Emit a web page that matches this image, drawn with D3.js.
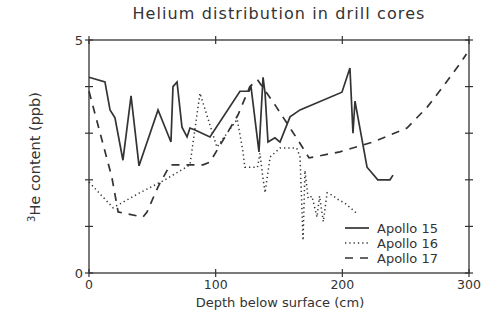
<!DOCTYPE html>
<html>
<head>
<meta charset="utf-8">
<script src="https://cdn.jsdelivr.net/npm/d3@7"></script>
<style>
  body { margin: 0; background: #fff; }
  svg { display: block; font-family: "DejaVu Sans", sans-serif; }
</style>
</head>
<body>
<svg id="chart" width="482" height="325"></svg>
<script>
// данные: глубина (см) и содержание 3He (ppb)
const apollo15 = [
  [0, 4.2], [12.6, 4.1], [16.6, 3.5], [20.5, 3.33], [26.8, 2.42], [33.2, 3.8],
  [39.5, 2.3], [54.5, 3.5], [64.7, 2.81], [66.3, 4.0], [69.5, 4.1], [73.4, 3.13],
  [77.4, 2.92], [79.7, 3.11], [83.7, 3.07], [95.5, 2.92], [119.2, 3.9], [126.3, 3.9],
  [127.9, 4.0], [134.2, 2.6], [137.4, 4.2], [139, 3.86], [141.3, 2.81], [146.8, 2.9],
  [150.8, 2.81], [158.7, 3.35], [166.6, 3.5], [199.7, 3.88], [206, 4.4], [208.4, 3.0],
  [210, 3.69], [212.4, 3.33], [219.5, 2.27], [228, 2.0], [237.6, 2.0], [240, 2.1]
];
const apollo16 = [
  [0, 1.95], [19, 1.4], [40, 1.72], [60, 2.0], [79.7, 2.32], [87.6, 3.86],
  [101, 2.7], [117, 3.3], [121.6, 2.6], [123, 2.27], [133, 2.27], [135, 2.57],
  [137, 2.1], [139, 1.72], [143, 2.49], [150.8, 2.68], [164, 2.68], [166.6, 2.49],
  [169, 0.7], [170.5, 2.2], [173, 1.6], [176, 1.65], [180, 1.2], [182, 1.65],
  [185, 1.1], [188, 1.72], [192, 1.67], [197, 1.57], [202, 1.5], [211, 1.29]
];
const apollo17 = [
  [0, 3.9], [18, 2.06], [23, 1.31], [42.6, 1.2], [45.8, 1.31], [54.5, 1.85],
  [64, 2.32], [73.4, 2.32], [90, 2.32], [95.5, 2.38], [117.6, 3.39], [127, 4.0],
  [133, 4.15], [148, 3.56], [165, 2.85], [173.7, 2.47], [198, 2.6], [224, 2.81],
  [251, 3.11], [267, 3.56], [279.5, 4.0], [293, 4.5], [298, 4.7]
];
const xTicks = [0, 100, 200, 300];
const yTicks = [0, 1, 2, 3, 4, 5];
const yLabels = [0, 5];
const seriesNames = ["Apollo 15", "Apollo 16", "Apollo 17"];

const svg = d3.select("#chart");
const area = { left: 89, right: 469, top: 40, bottom: 273 };
const ink = "#333";

const scX = d3.scaleLinear().domain([0, 300]).range([area.left, area.right]);
const scY = d3.scaleLinear().domain([0, 5]).range([area.bottom, area.top]);

// рамка и оси
svg.append("rect")
  .attr("x", area.left).attr("y", area.top)
  .attr("width", area.right - area.left).attr("height", area.bottom - area.top)
  .attr("fill", "none").attr("stroke", ink).attr("stroke-width", 1.3);

const tickLen = 4;
// нижняя и верхняя ось
[area.bottom, area.top].forEach(y => {
  svg.append("g").selectAll("line").data(xTicks).enter().append("line")
    .attr("x1", d => scX(d)).attr("x2", d => scX(d))
    .attr("y1", y - tickLen).attr("y2", y + tickLen)
    .attr("stroke", ink).attr("stroke-width", 1.2);
});
// левая и правая ось
[area.left, area.right].forEach(x => {
  svg.append("g").selectAll("line").data(yTicks).enter().append("line")
    .attr("x1", x - tickLen).attr("x2", x + tickLen)
    .attr("y1", d => scY(d)).attr("y2", d => scY(d))
    .attr("stroke", ink).attr("stroke-width", 1.2);
});

svg.append("g").selectAll("text").data(xTicks).enter().append("text")
  .attr("x", d => scX(d)).attr("y", area.bottom + 16)
  .attr("text-anchor", "middle").attr("font-size", 12.5).attr("fill", ink)
  .text(d => d);
svg.append("g").selectAll("text").data(yLabels).enter().append("text")
  .attr("x", area.left - 6).attr("y", d => scY(d) + 5)
  .attr("text-anchor", "end").attr("font-size", 13).attr("fill", ink)
  .text(d => d);

// заголовок и подписи осей
svg.append("text")
  .attr("x", 279).attr("y", 19).attr("text-anchor", "middle")
  .attr("font-size", 16).attr("letter-spacing", 1.1).attr("fill", ink)
  .text("Helium distribution in drill cores");
svg.append("text")
  .attr("x", 280).attr("y", 307).attr("text-anchor", "middle")
  .attr("font-size", 13).attr("fill", ink)
  .text("Depth below surface (cm)");
const yl = svg.append("text")
  .attr("transform", "translate(40,157) rotate(-90)")
  .attr("text-anchor", "middle").attr("font-size", 14.5).attr("fill", ink);
yl.append("tspan").attr("font-size", 10).attr("dy", -5).text("3");
yl.append("tspan").attr("dy", 5).text("He content (ppb)");

// линии
const line = d3.line().x(d => scX(d[0])).y(d => scY(d[1]));
const styles = [
  { dash: null, width: 1.7 },
  { dash: "1.3,3", width: 1.5 },
  { dash: "8,7", width: 1.7 }
];
[apollo15, apollo16, apollo17].forEach((s, i) => {
  svg.append("path").datum(s)
    .attr("d", line)
    .attr("fill", "none").attr("stroke", ink)
    .attr("stroke-width", styles[i].width)
    .attr("stroke-dasharray", styles[i].dash)
    .attr("stroke-linejoin", "miter");
});

// легенда
const leg = svg.append("g");
seriesNames.forEach((name, i) => {
  const y = 228 + i * 15;
  leg.append("line")
    .attr("x1", 345).attr("x2", 369).attr("y1", y).attr("y2", y)
    .attr("stroke", ink).attr("stroke-width", styles[i].width)
    .attr("stroke-dasharray", styles[i].dash);
  leg.append("text")
    .attr("x", 377).attr("y", y + 5).attr("font-size", 13).attr("fill", ink)
    .text(name);
});
</script>
</body>
</html>
